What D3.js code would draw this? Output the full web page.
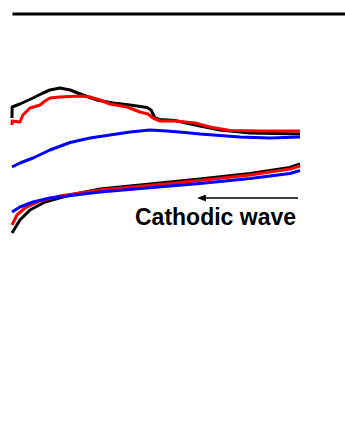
<!DOCTYPE html>
<html>
<head>
<meta charset="utf-8">
<script src="https://cdn.jsdelivr.net/npm/d3@7"></script>
<style>
  html, body { margin: 0; padding: 0; background: #fff; }
  svg { display: block; }
</style>
</head>
<body>
<svg id="chart" width="345" height="448"></svg>
<script>
// Cyclic voltammograms: potential E (V) vs current i (µA)
const xTicks = [-0.5, 0, 0.5, 1.0];

// Anodic (forward) branches, left to right
const blackAnodicE = [-0.80, -0.799, -0.747, -0.66, -0.593, -0.547, -0.48, -0.413, -0.327, -0.233, -0.127, -0.013, 0.10, 0.127, 0.153, 0.187, 0.287, 0.36, 0.453, 0.587, 0.787, 1.12];
const blackAnodicI = [9.2, 10.3, 10.6, 11.2, 11.7, 12.0, 12.2, 12.0, 11.5, 11.0, 10.7, 10.5, 10.25, 10.0, 9.2, 9.05, 8.95, 8.7, 8.4, 8.0, 7.7, 7.6];

const redAnodicE = [-0.80, -0.799, -0.747, -0.727, -0.68, -0.613, -0.58, -0.547, -0.48, -0.347, -0.28, -0.213, -0.147, -0.033, 0.053, 0.107, 0.14, 0.187, 0.287, 0.42, 0.52, 0.653, 0.853, 1.12];
const redAnodicI = [8.5, 8.9, 8.8, 9.5, 10.2, 10.5, 10.9, 11.2, 11.3, 11.4, 11.3, 11.0, 10.6, 10.3, 9.8, 9.6, 9.2, 8.9, 8.9, 8.7, 8.3, 7.95, 7.9, 7.9];

const blueAnodicE = [-0.80, -0.747, -0.66, -0.547, -0.413, -0.28, -0.147, -0.013, 0.12, 0.233, 0.353, 0.453, 0.72, 0.92, 1.12];
const blueAnodicI = [4.3, 4.7, 5.2, 6.0, 6.75, 7.2, 7.5, 7.8, 8.0, 7.9, 7.75, 7.6, 7.3, 7.2, 7.3];

// Cathodic (return) branches, right to left
const blackCathodicE = [1.12, 1.053, 0.787, 0.453, 0.253, -0.213, -0.413, -0.58, -0.68, -0.747, -0.80];
const blackCathodicI = [4.6, 4.25, 3.65, 3.1, 2.8, 2.1, 1.5, 0.8, 0.0, -1.0, -2.3];

const redCathodicE = [1.12, 1.053, 0.787, 0.453, 0.253, -0.213, -0.48, -0.613, -0.713, -0.767, -0.80];
const redCathodicI = [4.4, 4.1, 3.5, 2.95, 2.65, 2.0, 1.4, 0.9, 0.2, -0.5, -1.5];

const blueCathodicE = [1.12, 1.053, 0.787, 0.453, 0.253, -0.213, -0.433, -0.547, -0.66, -0.747, -0.80];
const blueCathodicI = [3.95, 3.65, 3.15, 2.65, 2.4, 1.8, 1.4, 1.2, 0.8, 0.3, -0.2];

// Annotation
const annotationText = "Cathodic wave";
const arrowFromE = 1.107, arrowToE = 0.433, arrowI = 1.2;
const labelE = 0.02, labelI = -1.45;

const svg = d3.select("#chart");

const x = d3.scaleLinear().domain([-0.8, 1.42]).range([12, 345]);
const y = d3.scaleLinear().domain([-24, 19.65]).range([450, 13.5]);

// Top frame edge with faint inward ticks
const topAxis = d3.axisTop(x).tickValues(xTicks).tickSize(-3).tickSizeOuter(0).tickFormat("");
const gAxis = svg.append("g").attr("transform", `translate(0,${y.range()[1]})`).call(topAxis);
gAxis.selectAll(".tick line").attr("stroke", "#e6e6e6").attr("stroke-width", 1);
gAxis.select(".domain").attr("stroke", "#000").attr("stroke-width", 3).raise();

const zip = (es, is) => es.map((e, k) => ({ e, i: is[k] }));
const line = d3.line().x(d => x(d.e)).y(d => y(d.i));

const traces = [
  { color: "#000000", data: zip(blackAnodicE, blackAnodicI) },
  { color: "#000000", data: zip(blackCathodicE, blackCathodicI) },
  { color: "#ff0000", data: zip(redAnodicE, redAnodicI) },
  { color: "#ff0000", data: zip(redCathodicE, redCathodicI) },
  { color: "#0000ff", data: zip(blueAnodicE, blueAnodicI) },
  { color: "#0000ff", data: zip(blueCathodicE, blueCathodicI) }
];

svg.append("g").selectAll("path")
  .data(traces)
  .join("path")
  .attr("d", d => line(d.data))
  .attr("fill", "none")
  .attr("stroke", d => d.color)
  .attr("stroke-width", 3)
  .attr("stroke-linejoin", "round")
  .attr("stroke-linecap", "butt");

// Arrow showing scan direction of the cathodic sweep
const defs = svg.append("defs");
defs.append("marker")
  .attr("id", "arrowhead")
  .attr("viewBox", "0 0 10 8")
  .attr("refX", 0).attr("refY", 4)
  .attr("markerUnits", "userSpaceOnUse")
  .attr("markerWidth", 10).attr("markerHeight", 7)
  .attr("orient", "auto-start-reverse")
  .append("path")
  .attr("d", "M0,0 L10,4 L0,8 Z")
  .attr("fill", "#000");

svg.append("line")
  .attr("x1", x(arrowFromE)).attr("y1", y(arrowI))
  .attr("x2", x(arrowToE) + 9).attr("y2", y(arrowI))
  .attr("stroke", "#000")
  .attr("stroke-width", 1.5)
  .attr("marker-end", "url(#arrowhead)");

svg.append("text")
  .attr("x", x(labelE))
  .attr("y", y(labelI))
  .attr("font-family", "'Liberation Sans', Arial, sans-serif")
  .attr("font-weight", "bold")
  .attr("font-size", 23)
  .attr("fill", "#000")
  .text(annotationText);
</script>
</body>
</html>
